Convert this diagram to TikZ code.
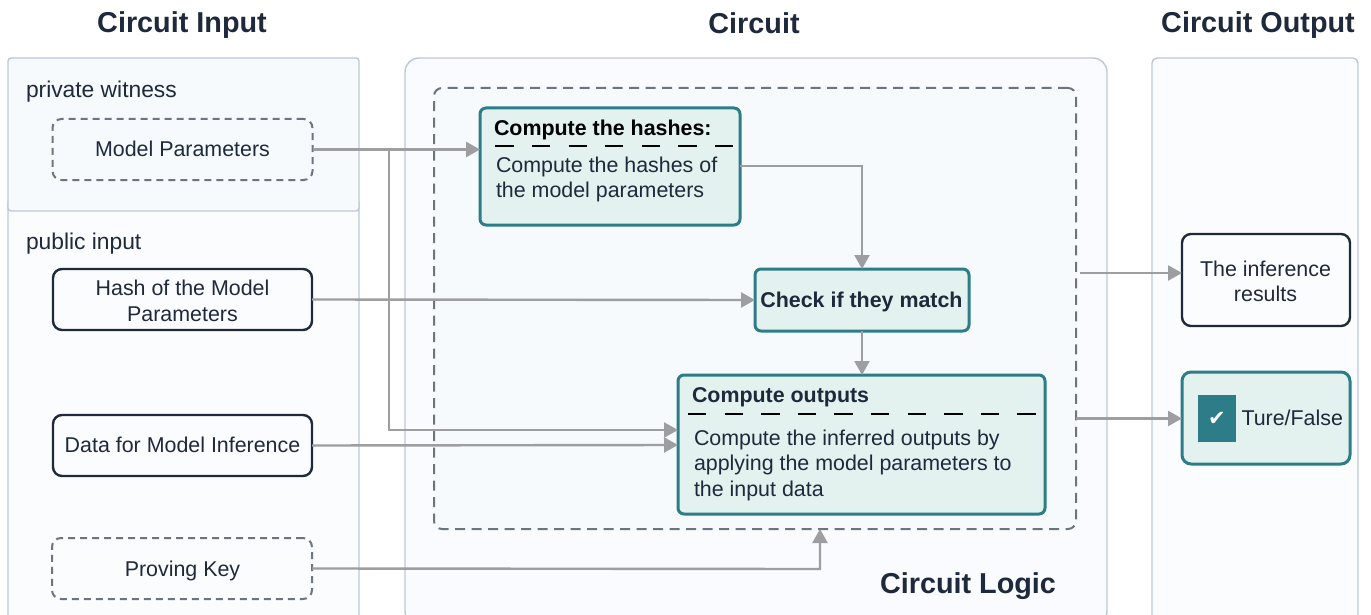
\documentclass[tikz,border=0pt]{standalone}
\usepackage{fontspec}
\setmainfont{Liberation Sans}
\newfontfamily\symfont{DejaVu Sans}
\usetikzlibrary{arrows.meta}
\definecolor{inkc}{HTML}{1E293B}
\definecolor{panelb}{HTML}{BCC8D8}
\definecolor{panela}{HTML}{F6FAFD}
\definecolor{panelc}{HTML}{FBFCFE}
\definecolor{dashc}{HTML}{6B7580}
\definecolor{tealc}{HTML}{2C7D87}
\definecolor{tealf}{HTML}{E3F1EF}
\definecolor{wirec}{HTML}{9E9EA2}
\tikzset{
  x=1pt,y=-1pt,
  every node/.style={font=\fontsize{21.4}{25.5}\selectfont,text=inkc,inner sep=0pt,outer sep=0pt},
  panel/.style={draw=panelb,line width=1.4pt},
  lanebox/.style={rounded corners=9pt,line width=2.4pt,align=center},
  solidbox/.style={lanebox,draw=inkc,fill=panelc},
  dashbox/.style={lanebox,draw=dashc,line width=2pt,dash pattern=on 7pt off 5pt,fill=panela},
  tealbox/.style={rounded corners=6pt,draw=tealc,fill=tealf,line width=3pt,align=center},
  title/.style={font=\fontsize{28.8}{32}\selectfont\bfseries},
  lanelabel/.style={anchor=west,font=\fontsize{22.8}{26}\selectfont},
  head/.style={anchor=west,font=\fontsize{21.4}{25.5}\selectfont\bfseries},
  bodytext/.style={anchor=west,align=left},
  wire/.style={draw=wirec,line width=2.4pt,-{Triangle[length=14pt,width=15pt]}},
  sep/.style={draw=black,line width=2.2pt,dash pattern=on 18.3pt off 18.3pt},
}
\begin{document}
\begin{tikzpicture}
\useasboundingbox (0,0) rectangle (1371,615);
\clip (0,0) rectangle (1371,615);
% panels
\fill[white] (0,0) rectangle (1371,615);
\draw[panel,fill=panelc,rounded corners=3pt] (8,200) rectangle (359,640);
\draw[panel,fill=panela,rounded corners=3pt] (8,58) rectangle (359,211);
\draw[panel,fill=panela!45!panelc,rounded corners=14pt] (405,58) rectangle (1107,625);
\draw[panel,fill=panelc,rounded corners=5pt] (1152,58) rectangle (1358,640);
% titles
\node[title] (t1) at (182,25) {Circuit Input};
\node[title] (t2) at (754,23) {Circuit};
\node[title] (t3) at (1258,25) {Circuit Output};
\node[lanelabel] (l1) at (26,92) {private witness};
\node[lanelabel] (l2) at (26,244) {public input};
\node[title] (l3) at (968,586) {Circuit Logic};
% logic frame
\node[draw=dashc,line width=2pt,dash pattern=on 10pt off 6.5pt,rounded corners=8pt,fill=panela,minimum width=642pt,minimum height=441pt] (logic) at (755,308.5) {};
% input nodes
\node[dashbox,minimum width=260pt,minimum height=61pt] (mp) at (182.5,149.5) {};
\node (mpt) at (182.5,148.5) {Model Parameters};
\node[solidbox,minimum width=259pt,minimum height=61pt] (hash) at (182.5,299.5) {};
\node[align=center] (hasht) at (182.5,301) {Hash of the Model\\[0.5pt]Parameters};
\node[solidbox,minimum width=259pt,minimum height=61pt] (data) at (182.5,445.5) {};
\node (datat) at (182.5,444.5) {Data for Model Inference};
\node[dashbox,fill=panelc,minimum width=260pt,minimum height=61pt] (pk) at (182,568.5) {};
\node (pkt) at (182.5,570.5) {Proving Key};
% logic nodes
\node[tealbox,minimum width=260pt,minimum height=117pt] (hb) at (610,166.5) {};
\node[head] (hbh) at (494,130) {\color{black}Compute the hashes:};
\node[bodytext] (hbb) at (496,179.5) {Compute the hashes of\\the model parameters};
\node[tealbox,minimum width=214pt,minimum height=62pt] (chk) at (862,300) {};
\node[font=\fontsize{21.4}{25.5}\selectfont\bfseries] (chkt) at (861.5,302) {Check if they match};
\node[tealbox,minimum width=367pt,minimum height=139pt] (out) at (861.5,444.5) {};
\node[head] (outh) at (692,397) {Compute outputs};
\node[bodytext] (outb) at (694,465) {Compute the inferred outputs by\\applying the model parameters to\\the input data};
% outputs
\node[solidbox,minimum width=168pt,minimum height=92pt] (res) at (1266,280) {};
\node[align=center] (rest) at (1265.5,281.5) {The inference\\results};
\node[tealbox,rounded corners=9pt,minimum width=168pt,minimum height=92pt] (tf) at (1266,418) {};
\node[fill=tealc,minimum width=38pt,minimum height=47pt] (cb) at (1217,418.5) {\symfont\fontsize{21}{21}\selectfont\color{white}✔};
\node[anchor=west] (tft) at (1241.5,418) {Ture/False};
% separators
\coordinate (s1) at (495.3,146); \coordinate (s2) at (735,146);
\coordinate (s3) at (688,414); \coordinate (s4) at (1037,414);
\draw[sep] (s1) -- (s2);
\draw[sep] (s3) -- (s4);
% connectors
\coordinate (bus) at (389,149.5);
\coordinate (o1) at (678,430);
\coordinate (o2) at (678,445);
\coordinate (a1) at (1080,273);
\coordinate (a2) at (1076,418.5);
\draw[wire,line width=2.8pt] (mp.east) -- (hb.west |- mp.east);
\draw[wire] (bus) -- (bus |- o1) -- (o1);
\draw[wire] (hash.east) -- (chk.west);
\draw[wire] (data.east) -- (o2);
\draw[wire] (hb.east |- 740,166) -- (chk.north |- 740,166) -- (chk.north);
\draw[wire] (chk.south) -- (chk.south |- out.north);
\draw[wire] (pk.east) -- (820,569) -- (820,529);
\draw[wire] (a1) -- (res.west |- a1);
\draw[wire] (a2) -- (tf.west |- a2);
\end{tikzpicture}
\end{document}
